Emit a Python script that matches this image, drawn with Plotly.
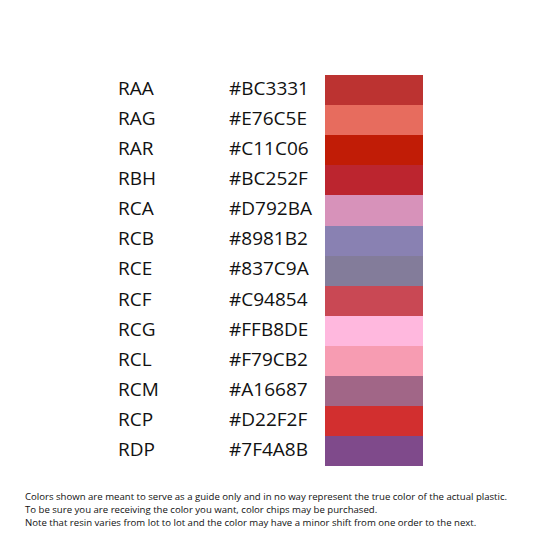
import plotly.graph_objects as go

codes = ["RAA","RAG","RAR","RBH","RCA","RCB","RCE","RCF","RCG","RCL","RCM","RCP","RDP"]
hexes = ["#BC3331","#E76C5E","#C11C06","#BC252F","#D792BA","#8981B2","#837C9A","#C94854","#FFB8DE","#F79CB2","#A16687","#D22F2F","#7F4A8B"]
notes = ["Colors shown are meant to serve as a guide only and in no way represent the true color of the actual plastic.",
         "To be sure you are receiving the color you want, color chips may be purchased.",
         "Note that resin varies from lot to lot and the color may have a minor shift from one order to the next."]

top, step = 75, 30.1
ys = [top + step*(i+0.5) for i in range(len(codes))]

fig = go.Figure()
fig.add_trace(go.Bar(y=ys, x=[98]*len(codes), base=[325]*len(codes), orientation="h",
                     width=step, marker=dict(color=hexes, line=dict(width=0)), hoverinfo="skip"))
fig.add_trace(go.Scatter(x=[118]*len(codes), y=ys, mode="text", text=codes, textposition="middle right",
                         textfont=dict(family="Open Sans", size=19, color="#111")))
fig.add_trace(go.Scatter(x=[229]*len(codes), y=ys, mode="text", text=hexes, textposition="middle right",
                         textfont=dict(family="Open Sans", size=19, color="#111")))
fig.add_trace(go.Scatter(x=[25]*3, y=[498, 511, 524], mode="text", text=notes, textposition="middle right",
                         textfont=dict(family="Open Sans", size=9.6, color="#111")))
fig.update_layout(width=540, height=540, margin=dict(l=0, r=0, t=0, b=0), showlegend=False,
                  plot_bgcolor="white", paper_bgcolor="white", bargap=0,
                  xaxis=dict(range=[8, 548], visible=False),
                  yaxis=dict(range=[548, 8], visible=False))
fig.write_html("out.html")
